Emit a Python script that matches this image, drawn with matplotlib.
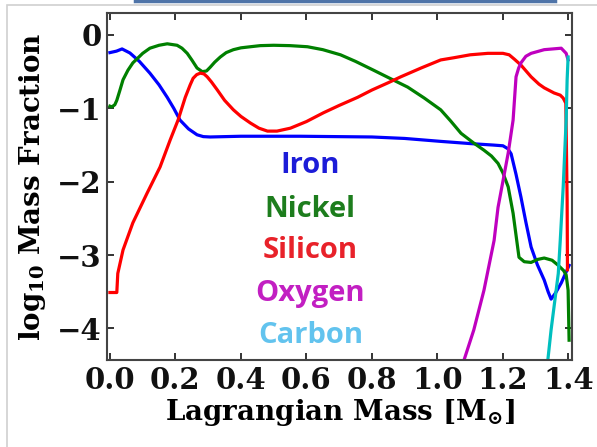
import numpy as np
import matplotlib
matplotlib.use("Agg")
import matplotlib.pyplot as plt
from matplotlib.patches import Rectangle
from matplotlib.lines import Line2D

# ---------- DATA ----------
iron_m = [0.0, 0.02, 0.037, 0.061, 0.09, 0.122, 0.15, 0.175, 0.195, 0.214, 0.24, 0.266,
          0.285, 0.306, 0.40, 0.58, 0.80, 0.90, 1.01, 1.10, 1.17, 1.20, 1.215, 1.225,
          1.24, 1.255, 1.27, 1.286, 1.305, 1.326, 1.338, 1.347, 1.36, 1.378, 1.402]
iron_x = [-0.24, -0.22, -0.19, -0.245, -0.36, -0.52, -0.68, -0.85, -1.00, -1.16, -1.28,
          -1.36, -1.385, -1.39, -1.38, -1.38, -1.39, -1.41, -1.45, -1.48, -1.50, -1.51,
          -1.55, -1.62, -1.90, -2.21, -2.55, -2.89, -3.13, -3.34, -3.50, -3.60, -3.52,
          -3.38, -3.14]

nickel_m = [0.0, 0.006, 0.015, 0.021, 0.03, 0.04, 0.055, 0.07, 0.10, 0.122, 0.15, 0.175,
            0.205, 0.22, 0.236, 0.25, 0.266, 0.282, 0.295, 0.306, 0.32, 0.337, 0.355,
            0.377, 0.40, 0.429, 0.459, 0.50, 0.55, 0.603, 0.65, 0.704, 0.75, 0.805,
            0.85, 0.909, 0.96, 1.010, 1.04, 1.072, 1.11, 1.142, 1.165, 1.185, 1.20,
            1.216, 1.231, 1.249, 1.265, 1.286, 1.305, 1.326, 1.35, 1.369, 1.385, 1.393,
            1.399, 1.402]
nickel_x = [-0.97, -0.98, -0.95, -0.89, -0.76, -0.61, -0.48, -0.38, -0.25, -0.18, -0.14,
            -0.12, -0.14, -0.18, -0.25, -0.34, -0.45, -0.50, -0.49, -0.44, -0.37, -0.30,
            -0.24, -0.20, -0.175, -0.16, -0.145, -0.14, -0.145, -0.16, -0.20, -0.27,
            -0.36, -0.48, -0.58, -0.71, -0.86, -1.02, -1.17, -1.34, -1.47, -1.57,
            -1.65, -1.75, -1.88, -2.07, -2.43, -3.03, -3.09, -3.10, -3.06, -3.04,
            -3.07, -3.14, -3.21, -3.27, -3.48, -4.16]

silicon_m = [0.0, 0.021, 0.024, 0.04, 0.07, 0.113, 0.153, 0.184, 0.208, 0.23, 0.245,
             0.254, 0.265, 0.276, 0.287, 0.297, 0.31, 0.328, 0.35, 0.377, 0.40, 0.429,
             0.455, 0.481, 0.51, 0.551, 0.60, 0.652, 0.70, 0.756, 0.80, 0.85, 0.888,
             0.95, 1.010, 1.050, 1.10, 1.154, 1.20, 1.219, 1.235, 1.255, 1.286, 1.31,
             1.326, 1.356, 1.375, 1.384, 1.392, 1.396, 1.397]
silicon_x = [-3.51, -3.51, -3.25, -2.93, -2.56, -2.16, -1.80, -1.43, -1.16, -0.85, -0.68,
             -0.59, -0.54, -0.52, -0.53, -0.57, -0.64, -0.75, -0.89, -1.02, -1.11, -1.20,
             -1.27, -1.31, -1.31, -1.27, -1.18, -1.06, -0.96, -0.85, -0.75, -0.65, -0.57,
             -0.45, -0.34, -0.31, -0.27, -0.25, -0.25, -0.27, -0.33, -0.41, -0.57, -0.67,
             -0.72, -0.79, -0.82, -0.86, -0.93, -2.25, -3.20]

oxygen_m = [1.066, 1.111, 1.142, 1.173, 1.185, 1.216, 1.231, 1.240, 1.248, 1.255, 1.27,
            1.286, 1.326, 1.378, 1.393, 1.399]
oxygen_x = [-4.64, -4.02, -3.48, -2.80, -2.35, -1.61, -1.16, -0.57, -0.45, -0.38, -0.29,
            -0.25, -0.20, -0.18, -0.25, -0.34]

carbon_m = [1.332, 1.347, 1.369, 1.375, 1.384, 1.393, 1.396, 1.399]
carbon_x = [-4.64, -4.02, -3.25, -2.80, -2.07, -1.16, -0.61, -0.30]

labels = ["Iron", "Nickel", "Silicon", "Oxygen", "Carbon"]
label_colors = ["#1c1cd8", "#1d7d1d", "#e8222a", "#c21fc2", "#62c3ee"]
label_y = [-1.88, -2.48, -3.04, -3.62, -4.20]

# ---------- STYLE ----------
plt.rcParams["font.family"] = "DejaVu Serif"
plt.rcParams["font.weight"] = "bold"
plt.rcParams["mathtext.fontset"] = "dejavuserif"
plt.rcParams["mathtext.default"] = "bf"

fig = plt.figure(figsize=(5.97, 4.47), dpi=100)
ax = fig.add_axes([0.1792, 0.1946, 0.779, 0.777])

# screenshot border + stray blue rule at top
fig.patches.append(Rectangle((0.012, -0.01), 1.0, 0.999, transform=fig.transFigure,
                             fill=False, edgecolor="#d0d0d0", lw=1.2))
fig.lines.append(Line2D([0.226, 0.93], [0.998, 0.998], transform=fig.transFigure,
                        color="#4f74a8", lw=2.5))

lw = 2.3
ax.plot(iron_m, iron_x, color="#0000ff", lw=lw, solid_joinstyle="round")
ax.plot(nickel_m, nickel_x, color="#008000", lw=lw, solid_joinstyle="round")
ax.plot(silicon_m, silicon_x, color="#ff0000", lw=lw, solid_joinstyle="round")
ax.plot(oxygen_m, oxygen_x, color="#bf00bf", lw=lw, solid_joinstyle="round")
ax.plot(carbon_m, carbon_x, color="#00bfbf", lw=lw, solid_joinstyle="round")

for name, c, y in zip(labels, label_colors, label_y):
    ax.text(0.612, y, name, color=c, ha="center", va="baseline",
            fontsize=21, fontweight="bold", family="Open Sans")

ax.set_xlim(-0.009, 1.411)
ax.set_ylim(-4.43, 0.304)
ax.set_xticks(np.arange(0, 1.41, 0.2))
ax.set_xticklabels(["%.1f" % v for v in np.arange(0, 1.41, 0.2)])
ax.set_yticks([0, -1, -2, -3, -4])
ax.set_yticklabels(["0", "\u22121", "\u22122", "\u22123", "\u22124"])

ax.tick_params(direction="in", top=True, right=True, length=5, width=1.2,
               labelsize=21, pad=4, colors="#111111")
for s in ax.spines.values():
    s.set_linewidth(1.5)
    s.set_color("#444444")

ax.set_xlabel(r"Lagrangian Mass [M$_{\odot}$]", fontsize=20, fontweight="bold", labelpad=2)
ax.set_ylabel(r"log$_{10}$ Mass Fraction", fontsize=20, fontweight="bold", labelpad=6)

fig.savefig("out.png", dpi=100)
